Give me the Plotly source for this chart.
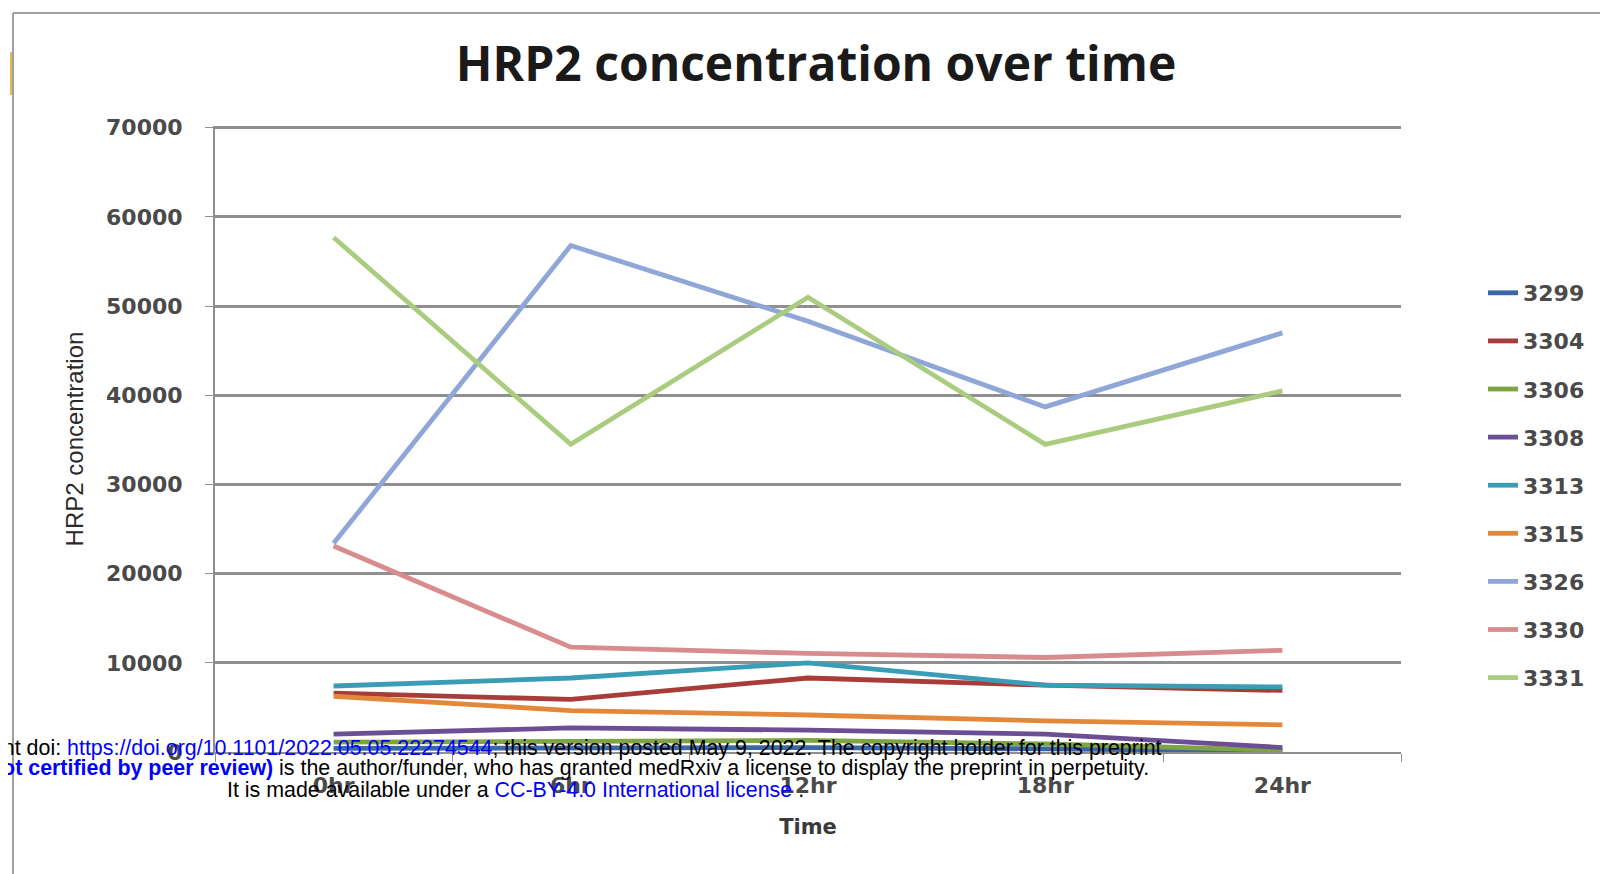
import plotly.graph_objects as go

# ---------------- data ----------------
time_labels = ["0hr", "6hr", "12hr", "18hr", "24hr"]
series_names = ["3299", "3304", "3306", "3308", "3313", "3315", "3326", "3330", "3331"]
s3299 = [400, 450, 500, 350, 100]
s3304 = [6600, 5900, 8300, 7500, 6900]
s3306 = [1100, 1200, 1300, 900, 200]
s3308 = [2000, 2700, 2450, 2000, 500]
s3313 = [7400, 8300, 10000, 7500, 7300]
s3315 = [6250, 4650, 4150, 3500, 3050]
s3326 = [23400, 56800, 48300, 38700, 47000]
s3330 = [23100, 11750, 11050, 10600, 11400]
s3331 = [57700, 34500, 51000, 34500, 40500]
series_values = [s3299, s3304, s3306, s3308, s3313, s3315, s3326, s3330, s3331]
series_colors = ["#3A67A6", "#A83C38", "#7FA443", "#6B4E94", "#3B9CB5",
                 "#E3883B", "#8FA6D8", "#D98C8E", "#AACC7E"]
y_ticks = [0, 10000, 20000, 30000, 40000, 50000, 60000, 70000]

# page offset of the browser's default body margin
OFF = 8
W, H = 1608 - OFF, 874 - OFF
# plot area in page pixels
PL, PR, PT, PB = 215, 1401, 126, 752
L, R, T, B = PL - OFF, PR - OFF, PT - OFF, PB - OFF


def px2x(px):
    return (px - PL) / (PR - PL)


def py2y(py):
    return (PB - py) / (PB - PT)


fig = go.Figure()
for name, vals, col in zip(series_names, series_values, series_colors):
    fig.add_trace(go.Scatter(
        x=time_labels, y=vals, name=name, mode="lines",
        line=dict(color=col, width=4.8), legendgroup=name))

tick_font = dict(family="DejaVu Sans", size=22, color="#4a4a4a", weight="bold")

fig.update_layout(
    width=W, height=H,
    margin=dict(l=L, r=W - R, t=T, b=H - B, pad=0),
    paper_bgcolor="white", plot_bgcolor="white",
    title=dict(text="<b>HRP2 concentration over time</b>",
               font=dict(family="Open Sans", size=48, color="#1a1a1a"),
               x=(816 - OFF) / W, xanchor="center", y=1 - (64 - OFF) / H, yanchor="middle"),
    xaxis=dict(
        type="category", range=[-0.5, 4.5], showgrid=False,
        showline=True, linecolor="#8f8f8f", linewidth=2,
        ticks="outside", tickson="boundaries", ticklen=8, tickcolor="#8f8f8f",
        tickfont=tick_font, ticklabelstandoff=13,
        title=dict(text="<b>Time</b>", font=dict(family="DejaVu Sans", size=21, color="#3a3a3a"),
                   standoff=22),
    ),
    yaxis=dict(
        range=[0, 70200], tickvals=y_ticks, ticktext=[str(v) for v in y_ticks],
        showgrid=True, gridcolor="#8f8f8f", gridwidth=2.5,
        showline=True, linecolor="#8f8f8f", linewidth=2,
        ticks="outside", ticklen=8, tickcolor="#8f8f8f",
        tickfont=tick_font, zeroline=False, ticklabelstandoff=18,
        title=dict(text="HRP2 concentration",
                   font=dict(family="Liberation Sans", size=24, color="#2a2a2a"),
                   standoff=16),
    ),
    legend=dict(
        x=px2x(1483), xanchor="left", y=py2y(272), yanchor="top",
        traceorder="grouped", tracegroupgap=16.5,
        font=dict(family="DejaVu Sans", size=22, color="#4a4a4a", weight="bold"),
        bgcolor="rgba(0,0,0,0)", itemwidth=30,
    ),
    showlegend=True,
)

# outer frame lines of the original picture
fig.add_shape(type="line", xref="paper", yref="paper",
              x0=px2x(13), x1=px2x(1620), y0=py2y(13), y1=py2y(13),
              line=dict(color="#a0a0a0", width=2))
fig.add_shape(type="line", xref="paper", yref="paper",
              x0=px2x(13), x1=px2x(13), y0=py2y(13), y1=py2y(890),
              line=dict(color="#a0a0a0", width=2))
fig.add_shape(type="line", xref="paper", yref="paper",
              x0=px2x(11), x1=px2x(11), y0=py2y(52), y1=py2y(95),
              line=dict(color="#E8B84A", width=2))

# medRxiv watermark text overlay
wm_font = dict(family="Liberation Sans", size=21.4, color="black")
blue = "#0000ff"
fig.add_annotation(
    xref="paper", yref="paper", x=px2x(1164), y=py2y(748),
    xanchor="right", yanchor="middle", showarrow=False, font=wm_font,
    text=("medRxiv preprint doi: <span style='color:%s'>https://doi.org/10.1101/2022.05.05.22274544</span>; "
          "this version posted May 9, 2022. The copyright holder for this preprint" % blue))
fig.add_annotation(
    xref="paper", yref="paper", x=px2x(1151), y=py2y(768),
    xanchor="right", yanchor="middle", showarrow=False, font=wm_font,
    text=("<b><span style='color:%s'>(which was not certified by peer review)</span></b> "
          "is the author/funder, who has granted medRxiv a license to display the preprint in perpetuity." % blue))
fig.add_annotation(
    xref="paper", yref="paper", x=px2x(225), y=py2y(790),
    xanchor="left", yanchor="middle", showarrow=False, font=wm_font,
    text=("It is made available under a <span style='color:%s'>CC-BY-4.0 International license</span> ." % blue))

fig.write_html("out.html")
